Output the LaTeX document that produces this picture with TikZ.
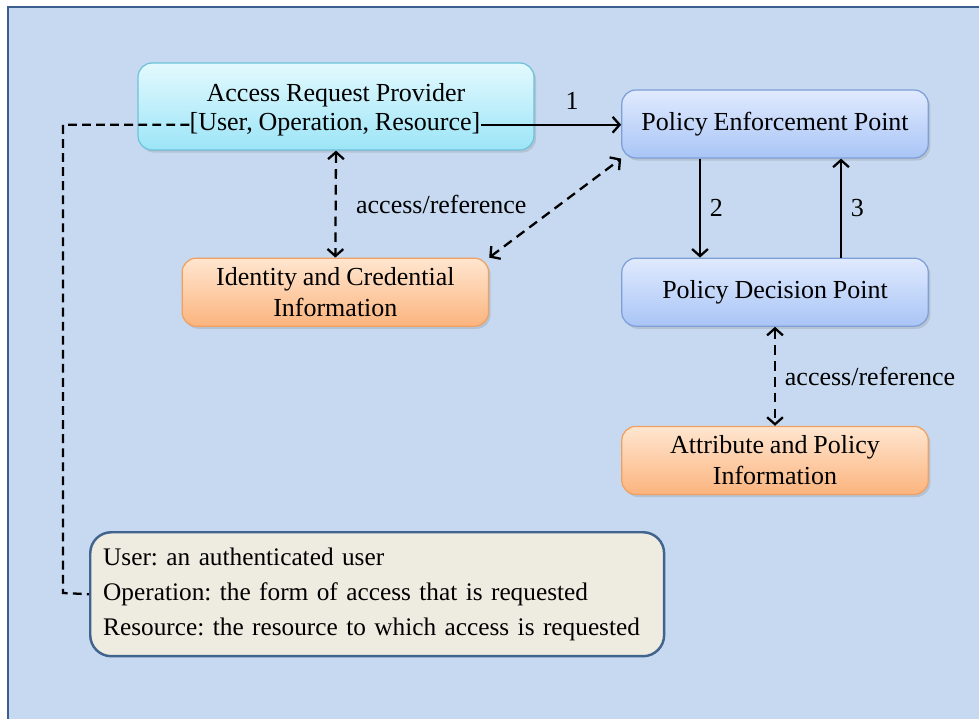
\documentclass[tikz,border=0pt]{standalone}
\usepackage{fontspec}
\setmainfont[WordSpace=0.9]{Liberation Serif}
\frenchspacing
\usetikzlibrary{positioning, arrows.meta, shadows, calc}

\definecolor{bgblue}{HTML}{C6D9F0}
\definecolor{frameblue}{HTML}{3A5F8E}
\definecolor{cyantop}{HTML}{E3F9FE}
\definecolor{cyanbot}{HTML}{9CE5F7}
\definecolor{cyanline}{HTML}{6CC3DA}
\definecolor{bluetop}{HTML}{E0EAFE}
\definecolor{bluebot}{HTML}{A9C5F6}
\definecolor{blueline}{HTML}{7E9FD6}
\definecolor{orangetop}{HTML}{FFE6D0}
\definecolor{orangebot}{HTML}{FBB47E}
\definecolor{orangeline}{HTML}{F0A060}
\definecolor{notefill}{HTML}{EEEBE1}
\definecolor{noteline}{HTML}{41648F}

\newcommand{\boxfont}{\fontsize{14.8}{17.6}\selectfont}

\tikzset{%
  box/.style={draw, rounded corners=8pt, line width=0.7pt, align=center,
    minimum width=6.13cm, minimum height=1.36cm, font=\boxfont,
    drop shadow={shadow xshift=1.2pt, shadow yshift=-1.5pt, opacity=0.25}},
  cyanbox/.style={box, draw=cyanline, top color=cyantop, bottom color=cyanbot},
  bluebox/.style={box, draw=blueline, top color=bluetop, bottom color=bluebot},
  orangebox/.style={box, draw=orangeline, top color=orangetop, bottom color=orangebot},
  notebox/.style={draw=noteline, fill=notefill, line width=1.4pt, rounded corners=12pt,
    minimum width=11.48cm, minimum height=2.48cm, inner xsep=0.26cm,
    text width=10.96cm, align=left, font=\fontsize{14.4}{20}\selectfont},
  link/.style={line width=1.3pt, ->},
  dlink/.style={line width=1.3pt, <->, dash pattern=on 5.5pt off 3.5pt},
  dline/.style={line width=1.3pt, dash pattern=on 5pt off 3pt},
  lbl/.style={font=\boxfont, inner sep=2pt}
}

\begin{document}
\begin{tikzpicture}[x=0.02cm, y=-0.02cm, >={Straight Barb[length=4pt,width=9pt]}]

\useasboundingbox (0,0) rectangle (979,719);
\clip (0,0) rectangle (979,719);
\fill[white] (0,0) rectangle (979,719);
\draw[fill=bgblue, draw=frameblue, line width=1.7pt] (8,7) rectangle (1000,740);

% boxes
\node[cyanbox, minimum width=7.92cm, minimum height=1.74cm] (arp) at (336,106.5) {};
\node[font=\boxfont, inner sep=0pt, anchor=base] (arptitle) at (336,102) {Access Request Provider};
\node[font=\boxfont, inner sep=0pt, anchor=base] (arpsub) at (335,131) {[User, Operation, Resource]};

\node[bluebox] (pep) at (775,124) {Policy Enforcement Point};
\node[bluebox, below=1.98cm of pep] (pdp) {Policy Decision Point};
\node[orangebox, below=1.98cm of pdp] (api) {Attribute and Policy\\Information};
\node[orangebox, left=2.64cm of pdp] (ici) {Identity and Credential\\Information};

\node[notebox, anchor=north west] (note) at (89,531) {User: an authenticated user\\
Operation: the form of access that is requested\\
Resource: the resource to which access is requested};

\coordinate (bend) at (63,593);

% connectors
\draw[link] (arpsub.east) -- (arpsub.east -| pep.west) node[lbl, pos=0.65, above=6pt] {1};
\draw[link] ($(pep.south)+(-75,0)$) -- ($(pdp.north)+(-75,0)$) node[lbl, midway, right=3pt] {2};
\draw[link] ($(pdp.north)+(66,0)$) -- ($(pep.south)+(66,0)$) node[lbl, midway, right=3pt] {3};
\draw[dlink] (arp.south) -- (ici.north) node[lbl, midway, right=9pt] {access/reference};
\draw[dlink] (ici.north east) -- (pep.south west);
\draw[dlink] (pdp.south) -- (api.north) node[lbl, midway, right=3pt] {access/reference};
\draw[dline] (arpsub.west) -| (bend) -- (note.west);

\end{tikzpicture}
\end{document}
